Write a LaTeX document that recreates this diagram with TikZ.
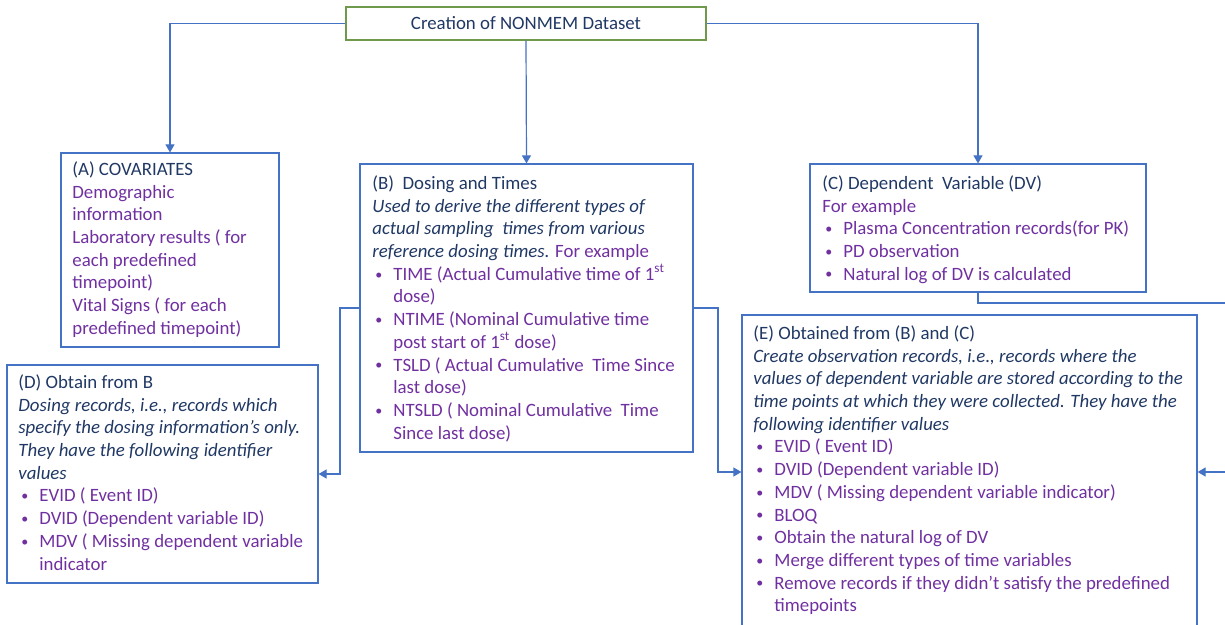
\documentclass[tikz,border=0pt]{standalone}
\usepackage{fontspec}
\setmainfont{Carlito}
\usetikzlibrary{arrows.meta,fit}
\definecolor{boxblue}{HTML}{4472C4}
\definecolor{navy}{HTML}{203864}
\definecolor{purp}{HTML}{7030A0}
\definecolor{topgreen}{HTML}{6F9A4B}
\newcommand{\hdc}[1]{\rule{0pt}{9pt}\textcolor{navy}{#1}}
\newcommand{\itc}[1]{\textcolor{navy}{\itshape #1}}
\newcommand{\bul}[1]{\hspace*{1.5pt}\makebox[9pt][l]{\raisebox{0.6pt}{\fontsize{7pt}{7pt}\selectfont\textbullet}}#1}
\newcommand{\cont}[1]{\hspace*{10.5pt}#1}
\tikzset{
  box/.style={draw=boxblue, line width=0.6pt, inner sep=0pt},
  topbox/.style={draw=topgreen, line width=0.6pt, inner sep=0pt},
  txt/.style={anchor=north west, inner sep=0pt, align=left, text=purp,
    font=\fontsize{9.42pt}{11.35pt}\selectfont},
  conn/.style={draw=boxblue, line width=0.6pt, -{Triangle[length=4pt,width=4.5pt]}},
}
\begin{document}
\begin{tikzpicture}[x=0.5pt,y=-0.5pt]
\useasboundingbox (0,0) rectangle (1225,625);
\clip (0,0) rectangle (1225,625);
% boxes
\node[topbox, fit={(346,7) (706,40)}] (top) {};
\node[box, fit={(61,153) (279,347)}] (A) {};
\node[box, fit={(360,164) (693,452)}] (B) {};
\node[box, fit={(810,164) (1146,292)}] (C) {};
\node[box, fit={(7,365) (318,583)}] (D) {};
\node[box, fit={(742,315) (1197,629)}] (E) {};
% texts (first baseline = y + 18)
\node[inner sep=0pt, text=navy, font=\fontsize{9.42pt}{11.35pt}\selectfont] (topt) at (top.center) {Creation of NONMEM Dataset};
\node[txt] (At) at (72,157) {\hdc{(A) COVARIATES}\\
Demographic\\
information\\
Laboratory results ( for\\
each predefined\\
timepoint)\\
Vital Signs ( for each\\
predefined timepoint)};
\node[txt] (Bt) at (372,171) {\hdc{(B)~ Dosing and Times}\\
\itc{Used to derive the different types of}\\
\itc{actual sampling~ times from various}\\
\itc{reference dosing times.} For example\\
\bul{TIME (Actual Cumulative time of 1\textsuperscript{st}}\\
\cont{dose)}\\
\bul{NTIME (Nominal Cumulative time}\\
\cont{post start of 1\textsuperscript{st} dose)}\\
\bul{TSLD ( Actual Cumulative~ Time Since}\\
\cont{last dose)}\\
\bul{NTSLD ( Nominal Cumulative~ Time}\\
\cont{Since last dose)}};
\node[txt] (Ct) at (822,171) {\hdc{(C) Dependent~ Variable (DV)}\\
For example\\
\bul{Plasma Concentration records(for PK)}\\
\bul{PD observation}\\
\bul{Natural log of DV is calculated}};
\node[txt] (Dt) at (18,370) {\hdc{(D) Obtain from B}\\
\itc{Dosing records, i.e., records which}\\
\itc{specify the dosing information's only.}\\
\itc{They have the following identifier}\\
\itc{values}\\
\bul{EVID ( Event ID)}\\
\bul{DVID (Dependent variable ID)}\\
\bul{MDV ( Missing dependent variable}\\
\cont{indicator}};
\node[txt] (Et) at (753,321) {\hdc{(E) Obtained from (B) and (C)}\\
\itc{Create observation records, i.e., records where the}\\
\itc{values of dependent variable are stored according to the}\\
\itc{time points at which they were collected. They have the}\\
\itc{following identifier values}\\
\bul{EVID ( Event ID)}\\
\bul{DVID (Dependent variable ID)}\\
\bul{MDV ( Missing dependent variable indicator)}\\
\bul{BLOQ}\\
\bul{Obtain the natural log of DV}\\
\bul{Merge different types of time variables}\\
\bul{Remove records if they didn’t satisfy the predefined}\\
\cont{timepoints}};
% connectors
\draw[conn] (top.west) -| (A.north);
\draw[conn] (top.east) -| (C.north);
\draw[conn] (top.south) -- (B.north);
\coordinate (bl) at (340,0);
\coordinate (br) at (718,0);
\draw[conn] (B.west) -| (bl |- D.east) -- (D.east);
\draw[conn] (B.east) -| (br |- E.west) -- (E.west);
\coordinate (cr) at (1245,303);
\draw[conn] (C.south) |- (cr) |- (E.east);
\end{tikzpicture}
\end{document}
